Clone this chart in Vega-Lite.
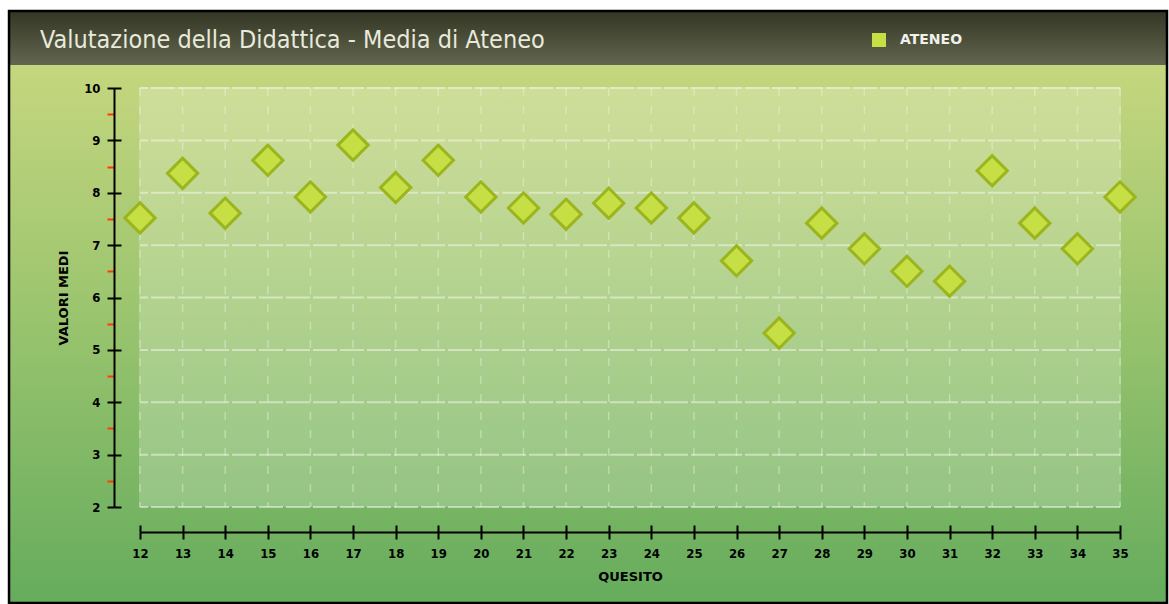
{
  "$schema": "https://vega.github.io/schema/vega-lite/v6.json",
  "autosize": "none",
  "width": 980,
  "height": 419,
  "padding": {"left": 140, "top": 88, "right": 49, "bottom": 97},
  "background": "white",
  "config": {"view": {"stroke": null}},
  "title": {
    "text": "Valutazione della Didattica - Media di Ateneo",
    "anchor": "start",
    "frame": "group",
    "orient": "top",
    "offset": 0,
    "dx": -100,
    "dy": 63,
    "baseline": "alphabetic",
    "font": "DejaVu Sans Condensed",
    "fontSize": 25,
    "fontWeight": "normal",
    "color": "#e8e9dc"
  },
  "data": {
    "values": [
      {"quesito": 12, "valore": 7.52},
      {"quesito": 13, "valore": 8.37},
      {"quesito": 14, "valore": 7.61},
      {"quesito": 15, "valore": 8.62},
      {"quesito": 16, "valore": 7.92},
      {"quesito": 17, "valore": 8.91},
      {"quesito": 18, "valore": 8.1},
      {"quesito": 19, "valore": 8.62},
      {"quesito": 20, "valore": 7.92},
      {"quesito": 21, "valore": 7.71},
      {"quesito": 22, "valore": 7.59},
      {"quesito": 23, "valore": 7.8},
      {"quesito": 24, "valore": 7.71},
      {"quesito": 25, "valore": 7.52},
      {"quesito": 26, "valore": 6.7},
      {"quesito": 27, "valore": 5.32},
      {"quesito": 28, "valore": 7.42},
      {"quesito": 29, "valore": 6.93},
      {"quesito": 30, "valore": 6.5},
      {"quesito": 31, "valore": 6.31},
      {"quesito": 32, "valore": 8.42},
      {"quesito": 33, "valore": 7.42},
      {"quesito": 34, "valore": 6.93},
      {"quesito": 35, "valore": 7.92}
    ]
  },
  "resolve": {"axis": {"x": "independent", "y": "independent"}},
  "layer": [
    {
      "data": {"values": [{}]},
      "mark": {
        "type": "rect",
        "clip": false,
        "fill": {
          "gradient": "linear", "x1": 0, "y1": 0, "x2": 0, "y2": 1,
          "stops": [
            {"offset": 0, "color": "#c6d77f"},
            {"offset": 0.1, "color": "#c4d67e"},
            {"offset": 0.5, "color": "#9cc56f"},
            {"offset": 1, "color": "#65ac5d"}
          ]
        }
      },
      "encoding": {
        "x": {"datum": 8.926, "type": "quantitative", "axis": null, "scale": {"domain": [12, 35], "nice": false, "zero": false}},
        "x2": {"datum": 36.103},
        "y": {"datum": 0.167, "type": "quantitative", "axis": null, "scale": {"domain": [2, 10], "nice": false, "zero": false}},
        "y2": {"datum": 11.47}
      }
    },
    {
      "data": {"values": [{}]},
      "mark": {
        "type": "rect",
        "clip": false,
        "fill": {
          "gradient": "linear", "x1": 0, "y1": 0, "x2": 0, "y2": 1,
          "stops": [
            {"offset": 0, "color": "#323623"},
            {"offset": 1, "color": "#63664f"}
          ]
        }
      },
      "encoding": {
        "x": {"datum": 8.926, "type": "quantitative", "axis": null, "scale": {"domain": [12, 35], "nice": false, "zero": false}},
        "x2": {"datum": 36.103},
        "y": {"datum": 10.439, "type": "quantitative", "axis": null, "scale": {"domain": [2, 10], "nice": false, "zero": false}},
        "y2": {"datum": 11.47}
      }
    },
    {
      "data": {"values": [{}]},
      "mark": {"type": "rect", "clip": false, "fill": "white", "fillOpacity": 0.22},
      "encoding": {
        "x": {"datum": 11.977, "type": "quantitative", "axis": null, "scale": {"domain": [12, 35], "nice": false, "zero": false}},
        "x2": {"datum": 35.023},
        "y": {"datum": 2, "type": "quantitative", "axis": null, "scale": {"domain": [2, 10], "nice": false, "zero": false}},
        "y2": {"datum": 10.02}
      }
    },
    {
      "data": {"values": [{"v": 2}, {"v": 3}, {"v": 4}, {"v": 5}, {"v": 6}, {"v": 7}, {"v": 8}, {"v": 9}, {"v": 10}]},
      "mark": {"type": "rule", "color": "#f3f6e8", "opacity": 0.55, "strokeWidth": 2, "strokeDash": [24, 3]},
      "encoding": {
        "y": {
          "field": "v", "type": "quantitative",
          "scale": {"domain": [2, 10], "nice": false, "zero": false},
          "axis": {
            "orient": "left", "offset": 26, "values": [2, 3, 4, 5, 6, 7, 8, 9, 10],
            "domain": false, "labels": false, "grid": false, "title": null,
            "tickSize": -7, "tickWidth": 2, "tickColor": "black", "zindex": 1
          }
        }
      }
    },
    {
      "mark": {"type": "rule", "color": "#f3f6e8", "opacity": 0.4, "strokeWidth": 1.5, "strokeDash": [8, 10]},
      "encoding": {
        "x": {
          "field": "quesito", "type": "quantitative",
          "scale": {"domain": [12, 35], "nice": false, "zero": false},
          "axis": {
            "orient": "bottom", "offset": 25,
            "values": [12, 13, 14, 15, 16, 17, 18, 19, 20, 21, 22, 23, 24, 25, 26, 27, 28, 29, 30, 31, 32, 33, 34, 35],
            "domain": false, "labels": false, "grid": false, "title": null,
            "tickSize": -7, "tickWidth": 2, "tickColor": "black", "zindex": 1
          }
        }
      }
    },
    {
      "mark": {"type": "point", "shape": "diamond", "filled": true, "size": 920, "stroke": "#9bb51d", "strokeWidth": 3, "opacity": 1},
      "encoding": {
        "x": {
          "field": "quesito", "type": "quantitative",
          "scale": {"domain": [12, 35], "nice": false, "zero": false},
          "axis": {
            "orient": "bottom", "offset": 25,
            "values": [12, 13, 14, 15, 16, 17, 18, 19, 20, 21, 22, 23, 24, 25, 26, 27, 28, 29, 30, 31, 32, 33, 34, 35],
            "domainColor": "black", "domainWidth": 2,
            "tickColor": "black", "tickSize": 7, "tickWidth": 2,
            "labelFont": "DejaVu Sans Condensed", "labelFontSize": 13, "labelFontWeight": "bold", "labelColor": "black",
            "labelPadding": 8, "labelFlush": false, "labelOverlap": false,
            "grid": false, "title": "QUESITO",
            "titleFont": "DejaVu Sans", "titleFontSize": 13, "titleFontWeight": "bold", "titleColor": "black", "titlePadding": 10,
            "zindex": 1
          }
        },
        "y": {
          "field": "valore", "type": "quantitative",
          "scale": {"domain": [2, 10], "nice": false, "zero": false},
          "axis": {
            "orient": "left", "offset": 26,
            "values": [2, 2.5, 3, 3.5, 4, 4.5, 5, 5.5, 6, 6.5, 7, 7.5, 8, 8.5, 9, 9.5, 10],
            "domainColor": "black", "domainWidth": 2,
            "tickColor": {"condition": {"test": "datum.value % 1 !== 0", "value": "#ff3c00"}, "value": "black"},
            "tickSize": 7, "tickWidth": 2,
            "labelExpr": "datum.value % 1 === 0 ? '' + datum.value : ''",
            "labelFont": "DejaVu Sans Condensed", "labelFontSize": 13, "labelFontWeight": "bold", "labelColor": "black",
            "labelPadding": 7, "labelOverlap": false,
            "grid": false, "title": "VALORI MEDI",
            "titleFont": "DejaVu Sans", "titleFontSize": 13, "titleFontWeight": "bold", "titleColor": "black", "titlePadding": 13,
            "zindex": 1
          }
        },
        "fill": {
          "datum": "ATENEO", "type": "nominal",
          "scale": {"range": ["#c6df44"]},
          "legend": {
            "orient": "none", "legendX": 732, "legendY": -55, "padding": 0,
            "title": null, "symbolType": "square", "symbolSize": 196, "symbolStrokeWidth": 0,
            "labelFont": "DejaVu Sans", "labelFontSize": 14, "labelFontWeight": "bold", "labelColor": "#f0f0ea",
            "labelOffset": 14
          }
        }
      }
    },
    {
      "data": {"values": [{}]},
      "mark": {"type": "rect", "clip": false, "filled": false, "stroke": "black", "strokeWidth": 2.5},
      "encoding": {
        "x": {"datum": 8.926, "type": "quantitative", "axis": null, "scale": {"domain": [12, 35], "nice": false, "zero": false}},
        "x2": {"datum": 36.103},
        "y": {"datum": 0.167, "type": "quantitative", "axis": null, "scale": {"domain": [2, 10], "nice": false, "zero": false}},
        "y2": {"datum": 11.47}
      }
    }
  ]
}
